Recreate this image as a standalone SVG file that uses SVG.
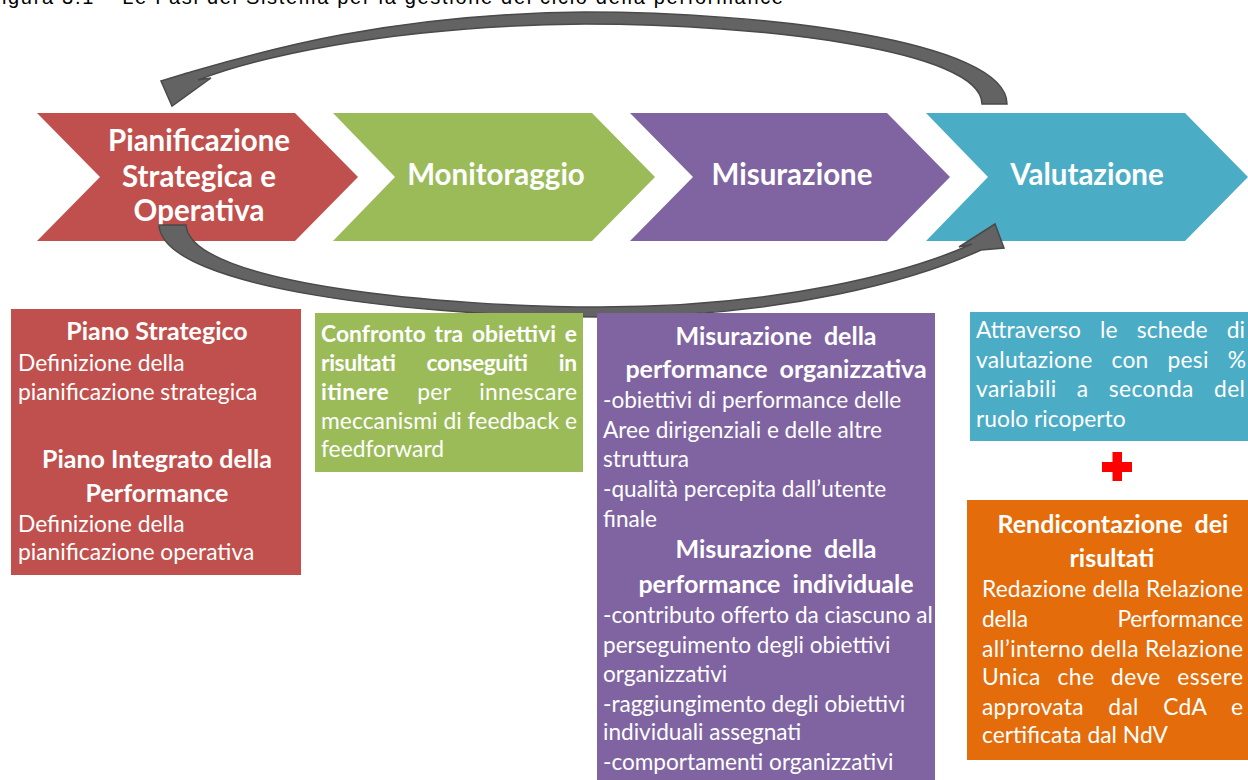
<svg xmlns="http://www.w3.org/2000/svg" width="1248" height="780" viewBox="0 0 1248 780">
<defs>
<style>
.w{fill:#fff;font-family:Lato,"Open Sans","Liberation Sans",sans-serif}
.h{font-size:29.5px;font-weight:700;text-anchor:middle}
.bh{font-size:25px;font-weight:700}
.r{font-size:22.8px}
.rp{font-size:22.6px}
.b{font-weight:700}
.c{text-anchor:middle}
.arc{fill:#636363;stroke:#4a4a4a;stroke-width:1.5;stroke-linejoin:miter}
.title{font-family:"Liberation Sans",Arial,sans-serif;font-size:20px;fill:#000}
</style>
</defs>
<rect width="1248" height="780" fill="#fff"/>
<text class="title" x="-12" y="4" textLength="795" lengthAdjust="spacing">Figura 3.1 – Le Fasi del Sistema per la gestione del ciclo della performance</text>

<g id="connectors-back">
<path id="arc-top" class="arc" d="M 1007,104 C 1007,40 760,12 585,12 C 380,14 250,55 184,74 L 161,81 L 172,106 L 211,78 L 198,80 C 250,60 380,26 585,24 C 760,24 982,50 982,104 Z"/>
</g>

<g id="phase-pianificazione">
<polygon points="37,113 295,113 358,177 295,241 37,241 100,177" fill="#C0504D"/>
<text class="w h" x="199" y="151">Pianificazione</text>
<text class="w h" x="199" y="187">Strategica e</text>
<text class="w h" x="199" y="221">Operativa</text>
</g>
<g id="phase-monitoraggio">
<polygon points="333,113 592,113 655,177 592,241 333,241 395,177" fill="#9BBB59"/>
<text class="w h" x="496" y="185">Monitoraggio</text>
</g>
<g id="phase-misurazione">
<polygon points="630,113 887,113 950,177 887,241 630,241 693,177" fill="#8064A2"/>
<text class="w h" x="792" y="185">Misurazione</text>
</g>
<g id="phase-valutazione">
<polygon points="926,113 1185,113 1248,177 1185,241 926,241 988,177" fill="#4BACC6"/>
<text class="w h" x="1087" y="185">Valutazione</text>
</g>

<g id="connectors">
<path id="arc-bottom" class="arc" d="M 159,225 C 162,290 430,317 600,317 C 790,317 920,278 981,250 L 1004,248 L 995,224 L 959,247 L 972,244 C 910,272 780,307 600,307 C 450,307 190,285 186,225 Z"/>
</g>

<g id="box-pianificazione">
<rect x="11" y="309" width="290" height="266" fill="#C0504D"/>
<text class="w bh c" x="157" y="340">Piano Strategico</text>
<text class="w r" x="18" y="371">Definizione della</text>
<text class="w r" x="18" y="400">pianificazione strategica</text>
<text class="w bh c" x="157" y="468">Piano Integrato della</text>
<text class="w bh c" x="157" y="502">Performance</text>
<text class="w r" x="18" y="532">Definizione della</text>
<text class="w r" x="18" y="560">pianificazione operativa</text>
</g>

<g id="box-monitoraggio">
<rect x="315" y="313" width="268" height="159" fill="#9BBB59"/>
<text class="w r b" x="321" y="342" word-spacing="3" textLength="256" lengthAdjust="spacing">Confronto tra obiettivi e</text>
<text class="w r b" x="321" y="371" word-spacing="26" textLength="256" lengthAdjust="spacing">risultati conseguiti in</text>
<text class="w r" x="321" y="400" word-spacing="22" textLength="256" lengthAdjust="spacing"><tspan class="b">itinere</tspan> per innescare</text>
<text class="w r" x="321" y="429" textLength="256" lengthAdjust="spacing">meccanismi di feedback e</text>
<text class="w r" x="321" y="457">feedforward</text>
</g>

<g id="box-misurazione">
<rect x="597" y="313" width="338" height="467" fill="#8064A2"/>
<text class="w bh c" x="776" y="345" word-spacing="6">Misurazione della</text>
<text class="w bh c" x="776" y="378" word-spacing="6">performance organizzativa</text>
<text class="w rp" x="603" y="408">-obiettivi di performance delle</text>
<text class="w rp" x="603" y="438">Aree dirigenziali e delle altre</text>
<text class="w rp" x="603" y="467">struttura</text>
<text class="w rp" x="603" y="497">-qualità percepita dall’utente</text>
<text class="w rp" x="603" y="527">finale</text>
<text class="w bh c" x="776" y="558" word-spacing="6">Misurazione della</text>
<text class="w bh c" x="776" y="593" word-spacing="6">performance individuale</text>
<text class="w rp" x="603" y="623">-contributo offerto da ciascuno al</text>
<text class="w rp" x="603" y="653">perseguimento degli obiettivi</text>
<text class="w rp" x="603" y="682">organizzativi</text>
<text class="w rp" x="603" y="712">-raggiungimento degli obiettivi</text>
<text class="w rp" x="603" y="740">individuali assegnati</text>
<text class="w rp" x="603" y="770">-comportamenti organizzativi</text>
</g>

<g id="box-valutazione">
<rect x="970" y="312" width="278" height="129" fill="#4BACC6"/>
<text class="w r" x="976" y="338" word-spacing="13" textLength="269" lengthAdjust="spacing">Attraverso le schede di</text>
<text class="w r" x="976" y="368" word-spacing="13" textLength="270" lengthAdjust="spacing">valutazione con pesi %</text>
<text class="w r" x="976" y="397" word-spacing="14" textLength="269" lengthAdjust="spacing">variabili a seconda del</text>
<text class="w r" x="976" y="427">ruolo ricoperto</text>
</g>

<g id="plus">
<rect x="1102" y="462" width="30" height="10" fill="#FF0000"/>
<rect x="1112.5" y="452" width="9.5" height="29" fill="#FF0000"/>
</g>

<g id="box-rendicontazione">
<rect x="967" y="500" width="281" height="260" fill="#E46C0A"/>
<text class="w bh c" x="1113" y="533" word-spacing="6">Rendicontazione dei</text>
<text class="w bh c" x="1112" y="567">risultati</text>
<text class="w r" x="982" y="597" textLength="261" lengthAdjust="spacing">Redazione della Relazione</text>
<text class="w r" x="982" y="627" word-spacing="84" textLength="261" lengthAdjust="spacing">della Performance</text>
<text class="w r" x="982" y="657" textLength="261" lengthAdjust="spacing">all’interno della Relazione</text>
<text class="w r" x="982" y="685" word-spacing="10.5" textLength="261" lengthAdjust="spacing">Unica che deve essere</text>
<text class="w r" x="982" y="715" word-spacing="18.5" textLength="261" lengthAdjust="spacing">approvata dal CdA e</text>
<text class="w r" x="982" y="743">certificata dal NdV</text>
</g>
</svg>
